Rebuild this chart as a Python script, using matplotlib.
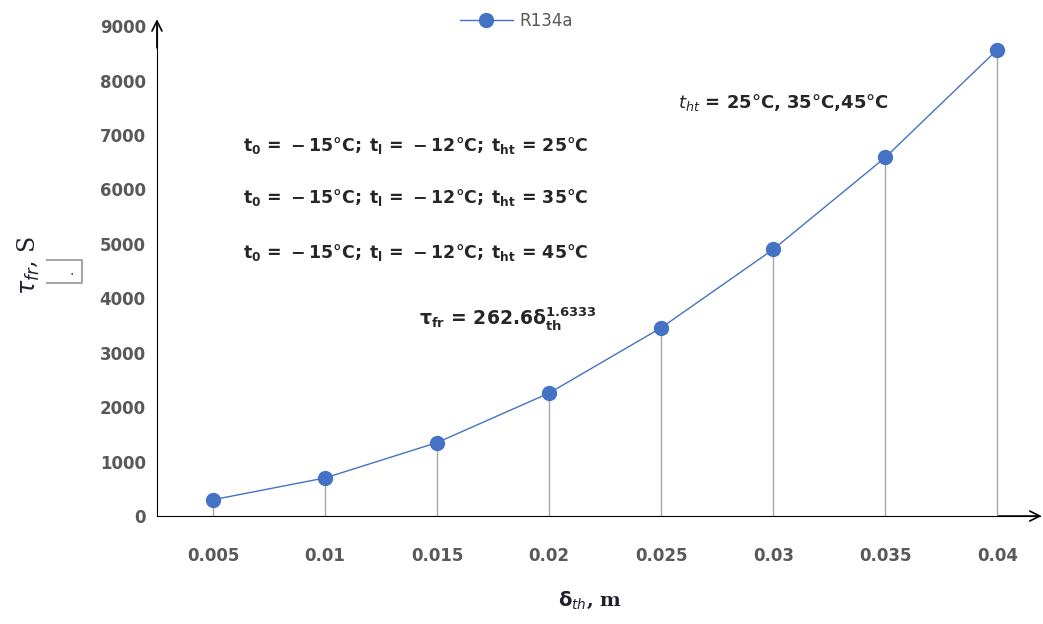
import matplotlib.pyplot as plt
from matplotlib.lines import Line2D

# Freezing time vs. ice thickness, R134a
thickness = ['0.005', '0.01', '0.015', '0.02', '0.025', '0.03', '0.035', '0.04']
freeze_time = [300, 700, 1350, 2260, 3460, 4900, 6590, 8570]

blue = '#4472C4'
grey_txt = '#595959'

fig = plt.figure(figsize=(10.43, 6.24), dpi=100)
ax = fig.add_axes([0.1505, 0.173, 0.8466, 0.785])

x = list(range(len(thickness)))
ax.vlines(x, 0, freeze_time, color='#a6a6a6', linewidth=1, zorder=1)
ax.plot(x, freeze_time, color=blue, linewidth=1, marker='o', markersize=10,
        markerfacecolor=blue, markeredgecolor=blue, label='R134a', zorder=3)

ax.set_xlim(-0.5, 7.38)
ax.set_ylim(0, 9000)
ax.set_xticks(x)
ax.set_xticklabels(thickness)
ax.set_yticks(range(0, 9001, 1000))
ax.tick_params(axis='both', length=0, labelsize=12, labelcolor=grey_txt, pad=8)
for lab in ax.get_xticklabels() + ax.get_yticklabels():
    lab.set_fontweight('bold')
ax.tick_params(axis='x', pad=22)

for side in ['top', 'right']:
    ax.spines[side].set_visible(False)
ax.spines['left'].set_color('black')
ax.spines['bottom'].set_color('black')

# arrow heads on the axes
ax.annotate('', xy=(0, 1.02), xytext=(0, 0.95), xycoords='axes fraction',
            arrowprops=dict(arrowstyle='->', color='black', lw=1.2, mutation_scale=18),
            annotation_clip=False)
ax.annotate('', xy=(1.005, 0), xytext=(0.95, 0), xycoords='axes fraction',
            arrowprops=dict(arrowstyle='->', color='black', lw=1.2, mutation_scale=18),
            annotation_clip=False)

fig.legend(loc='upper center', bbox_to_anchor=(0.495, 1.005), frameon=False,
           fontsize=12, labelcolor=grey_txt, handlelength=3.2, handletextpad=0.4)

# condition labels
cond = r'$\mathbf{t_0\,=\,-15°C;\;t_l\,=\,-12°C;\;t_{ht}\,=\,%d°C}$'
for y, t in zip([0.767, 0.683, 0.595], [25, 35, 45]):
    fig.text(0.233, y, cond % t, fontsize=12.5, color='#262626', va='center')

fig.text(0.402, 0.49, r'$\mathbf{\tau_{fr}\,=\,262.6\delta_{th}^{1.6333}}$', fontsize=13.5,
         color='#262626', va='center')
fig.text(0.65, 0.835, r'$t_{ht}$ = 25°C, 35°C,45°C', fontsize=13,
         fontweight='bold', color='#262626', va='center')

fig.text(0.028, 0.575, r'$\tau_{fr}$, S', rotation=90, fontsize=17, color='#1f1f2f',
         va='center', ha='center', family='DejaVu Serif')
fig.add_artist(Line2D([0.045, 0.079, 0.079, 0.045], [0.583, 0.583, 0.547, 0.547],
                      color='#a6a6a6', linewidth=1.5))
fig.text(0.069, 0.566, '.', fontsize=10, color='#333333', ha='center', va='center')

fig.text(0.566, 0.03, r'$\mathbf{\delta}_{th}$, m', fontsize=14, fontweight='bold',
         color='#1f1f2f', ha='center', family='DejaVu Serif')

fig.savefig('out.png', dpi=100)
